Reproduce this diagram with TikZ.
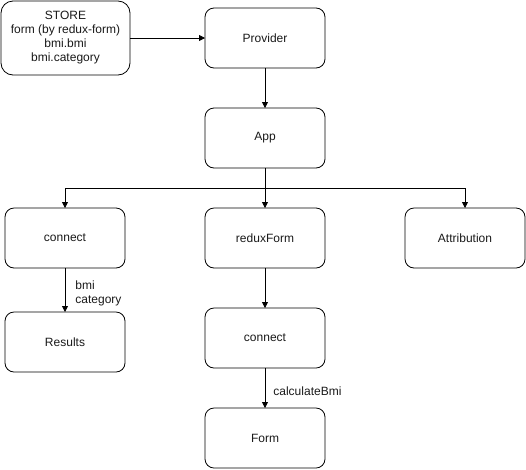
\documentclass[tikz,border=0pt]{standalone}
\usepackage{fontspec}
\setmainfont{Liberation Sans}
\usepackage{xcolor}
\usepackage{tikz}
\usetikzlibrary{
  arrows.meta,
  positioning
}
\definecolor{diagLine}{HTML}{000000}
\definecolor{diagText}{HTML}{1A1A1A}

\begin{document}
\begin{tikzpicture}[
  x=1pt, y=-1pt,
  font=\fontsize{12}{14}\selectfont,
  node distance=40pt and 80pt,
  box/.style={
    draw=diagLine,
    rounded corners=9pt,
    line width=0.8pt,
    outer sep=0pt,
    fill=white,
    text=diagText,
    align=center,
    inner sep=2pt,
    minimum width=120pt,
    minimum height=60pt
  },
  storebox/.style={box, rounded corners=12pt, minimum width=129pt, minimum height=74pt},
  note/.style={
    align=left,
    text=diagText,
    inner sep=2pt
  },
  arrow/.style={
    -{Triangle[length=6pt,width=6pt]},
    line width=0.8pt,
    draw=diagLine
  }
]
\useasboundingbox (0,0) rectangle (526,469);

% top: store feeds the provider
\node[box] (provider) at (265,38) {Provider};
\node[storebox] (store) at (65.5,38) {STORE\\form (by redux-form)\\bmi.bmi\\bmi.category};
\node[box, below=of provider] (app) {App};

% second row
\node[box, below=of app] (reduxform) {reduxForm};
\node[box, left=of reduxform] (connectres) {connect};
\node[box, right=of reduxform] (attribution) {Attribution};

% lower boxes
\node[box, below=44pt of connectres] (results) {Results};
\node[box, below=of reduxform] (connectform) {connect};
\node[box, below=of connectform] (form) {Form};

\draw[arrow] (store.east) -- (provider.west);
\draw[arrow] (provider.south) -- (app.north);
\draw[arrow] (app.south) -- (reduxform.north);
\draw[arrow] (app.south) -- ++(0,20) -| (connectres.north);
\draw[arrow] (app.south) -- ++(0,20) -| (attribution.north);

\draw[arrow] (connectres.south) -- (results.north)
  node[note, midway, anchor=west, xshift=8pt, yshift=-3pt] (lblres) {bmi\\category};
\draw[arrow] (reduxform.south) -- (connectform.north);
\draw[arrow] (connectform.south) -- (form.north)
  node[note, midway, anchor=west, xshift=6pt, yshift=-3pt] (lblform) {calculateBmi};

\end{tikzpicture}
\end{document}
